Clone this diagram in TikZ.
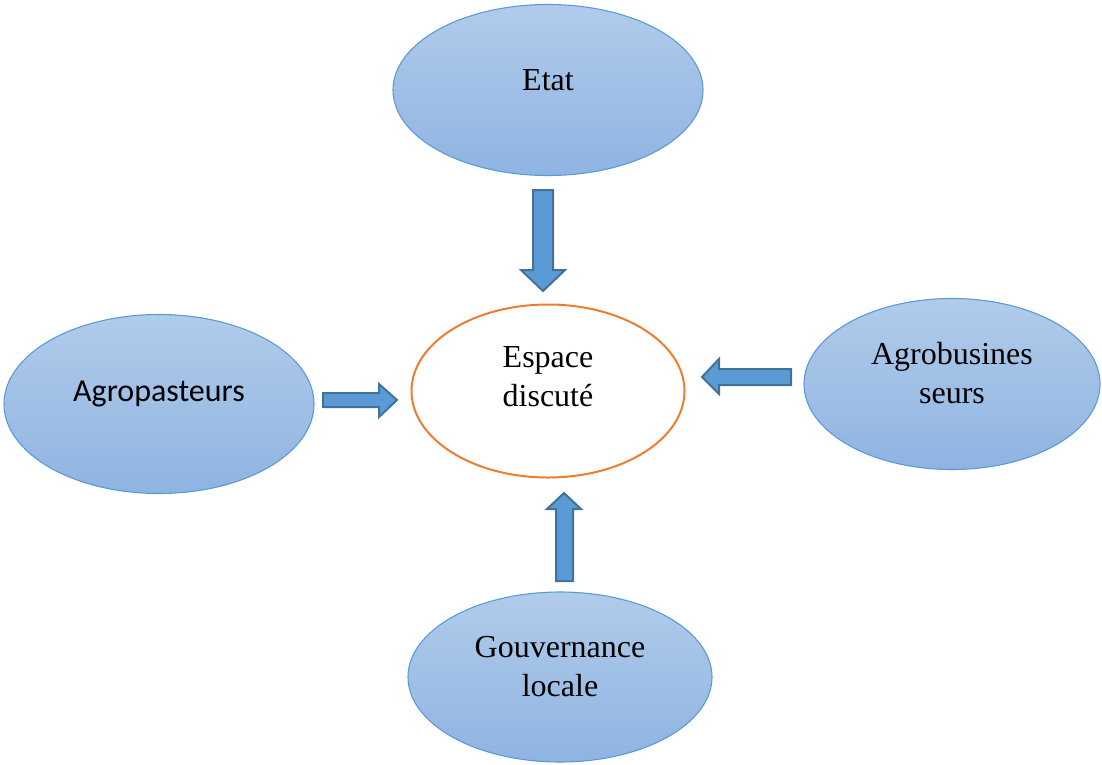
\documentclass[tikz,border=0pt]{standalone}
\usepackage{fontspec}
\setmainfont{Liberation Serif}
\newfontfamily\calib{Carlito}
\usetikzlibrary{shapes.geometric}
\definecolor{elltop}{HTML}{B1CBEA}
\definecolor{ellbot}{HTML}{8FB4E2}
\definecolor{ellline}{HTML}{5B9BD5}
\definecolor{arrfill}{HTML}{5B9BD5}
\definecolor{arrline}{HTML}{41719C}
\definecolor{orangeline}{HTML}{ED7D31}
\tikzset{
  actor/.style={ellipse, draw=ellline, line width=1.1pt, top color=elltop, bottom color=ellbot, inner sep=0pt},
  centre/.style={ellipse, draw=orangeline, line width=2pt, fill=white, inner sep=0pt},
  lbl/.style={font=\fontsize{32}{39}\selectfont, align=center, inner sep=0pt},
  blockarrow/.style={fill=arrfill, draw=arrline, line width=2pt, line join=miter}
}
\begin{document}
\begin{tikzpicture}[x=1pt,y=-1pt]
\useasboundingbox (0,0) rectangle (1102,764);
\node[actor, minimum width=310pt, minimum height=171pt] (etat) at (548,90) {};
\node[actor, minimum width=310pt, minimum height=179pt] (agrop) at (159,404) {};
\node[actor, minimum width=296pt, minimum height=171pt] (agrob) at (952,384) {};
\node[actor, minimum width=304pt, minimum height=170pt] (gouv) at (560,677) {};
\node[centre, minimum width=273pt, minimum height=173pt] (esp) at (548,391) {};

\node[lbl] (tetat) at (548,80) {Etat};
\node[lbl, font=\calib\fontsize{32}{39}\selectfont] (tagrop) at (159,394) {Agropasteurs};
\node[lbl] (tagrob) at (952,373) {Agrobusines\\seurs};
\node[lbl] (tgouv) at (560,667) {Gouvernance\\locale};
\node[lbl] (tesp) at (548,377) {Espace\\discuté};

\draw[blockarrow] (533,190) -- (553,190) -- (553,270) -- (565,270) -- (543,291) -- (521,270) -- (533,270) -- cycle;
\draw[blockarrow] (323,393) -- (379,393) -- (379,384) -- (397,400) -- (379,417) -- (379,407) -- (323,407) -- cycle;
\draw[blockarrow] (791,369) -- (719,369) -- (719,359) -- (702,377) -- (719,394) -- (719,385) -- (791,385) -- cycle;
\draw[blockarrow] (556,581) -- (556,509) -- (547,509) -- (564,493) -- (581,509) -- (573,509) -- (573,581) -- cycle;
\end{tikzpicture}
\end{document}
